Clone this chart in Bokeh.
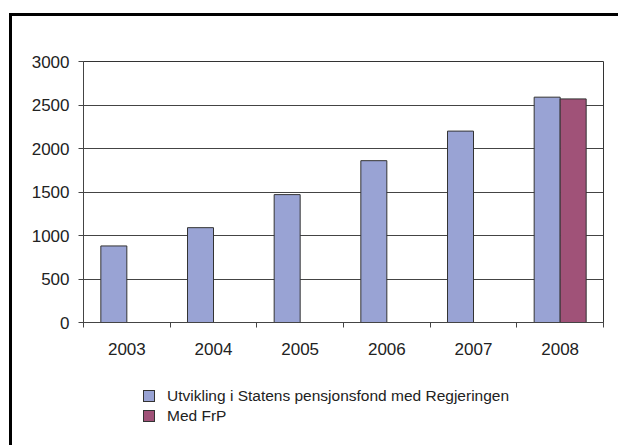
from bokeh.plotting import figure
from bokeh.layouts import column
from bokeh.models import ColumnDataSource, Range1d, FixedTicker, Div
from bokeh.embed import file_html
from bokeh.resources import INLINE

# ---- data ----
years = ["2003", "2004", "2005", "2006", "2007", "2008"]
regjeringen = [880, 1090, 1470, 1860, 2200, 2590]
med_frp = [None, None, None, None, None, 2570]
series_labels = ["Utvikling i Statens pensjonsfond med Regjeringen", "Med FrP"]
y_ticks = [0, 500, 1000, 1500, 2000, 2500, 3000]

BLUE = "#99a3d4"
PURPLE = "#a05278"
series_colors = [BLUE, PURPLE]
FONT = "Liberation Sans"
DARK = "#444444"

bar_w = 0.3
idx = list(range(len(years)))
src_reg = ColumnDataSource(dict(x=[i + 0.5 - bar_w / 2 for i in idx], top=regjeringen))
frp_i = [i for i, v in zip(idx, med_frp) if v is not None]
src_frp = ColumnDataSource(dict(x=[i + 0.5 + bar_w / 2 for i in frp_i],
                                top=[med_frp[i] for i in frp_i]))

# ---- chart ----
p = figure(width=606, height=356, output_backend="svg", toolbar_location=None,
           x_range=Range1d(0, len(years)), y_range=Range1d(0, 3000),
           min_border_left=71, min_border_right=15, min_border_top=45,
           min_border_bottom=50)

p.vbar(x="x", top="top", width=bar_w, source=src_reg, fill_color=BLUE,
       line_color="#333333", line_width=1)
p.vbar(x="x", top="top", width=bar_w, source=src_frp, fill_color=PURPLE,
       line_color="#333333", line_width=1)

p.outline_line_color = "#333333"
p.xgrid.visible = False
p.ygrid.ticker = FixedTicker(ticks=y_ticks)
p.ygrid.grid_line_color = DARK
p.background_fill_color = "white"
p.border_fill_color = "white"

ya = p.yaxis[0]
ya.ticker = FixedTicker(ticks=y_ticks)
ya.axis_line_color = DARK
ya.major_tick_line_color = DARK
ya.major_tick_out = 5
ya.major_tick_in = 0
ya.minor_tick_line_color = None
ya.major_label_text_font = FONT
ya.major_label_text_font_size = "17px"
ya.major_label_text_color = "#222222"
ya.major_label_standoff = 9

xa = p.xaxis[0]
centers = [i + 0.5 for i in idx]
xa.ticker = FixedTicker(ticks=centers, minor_ticks=list(range(len(years) + 1)))
xa.major_label_overrides = {c: y for c, y in zip(centers, years)}
xa.major_tick_line_color = None
xa.minor_tick_line_color = DARK
xa.minor_tick_out = 5
xa.minor_tick_in = 0
xa.axis_line_color = DARK
xa.major_label_text_font = FONT
xa.major_label_text_font_size = "17px"
xa.major_label_text_color = "#222222"
xa.major_label_standoff = 14

# ---- legend (HTML strip below the chart) ----
rows = []
for k, (lab, col) in enumerate(zip(series_labels, series_colors)):
    rows.append(
        f'<div style="position:absolute;left:131px;top:{14 + 20 * k}px;height:20px;'
        f'display:flex;align-items:center;white-space:nowrap;">'
        f'<span style="display:inline-block;box-sizing:border-box;width:12px;height:12px;'
        f'background:{col};border:1px solid #333333;margin-right:12px;"></span>'
        f'{lab}</div>'
    )
legend_html = (
    f'<div style="position:relative;width:606px;height:73px;background:white;'
    f'font-family:\'{FONT}\';font-size:15.5px;color:#222222;line-height:20px;">'
    + "".join(rows) + "</div>"
)
legend_div = Div(text=legend_html, width=606, height=73, margin=0)

# outer chart box: black left/top border around the whole
layout = column(p, legend_div, spacing=0)
layout.styles = {"border-left": "3px solid black", "border-top": "3px solid black",
                 "margin-left": "9px", "margin-top": "13px"}

open("out.html", "w").write(file_html(layout, INLINE))
